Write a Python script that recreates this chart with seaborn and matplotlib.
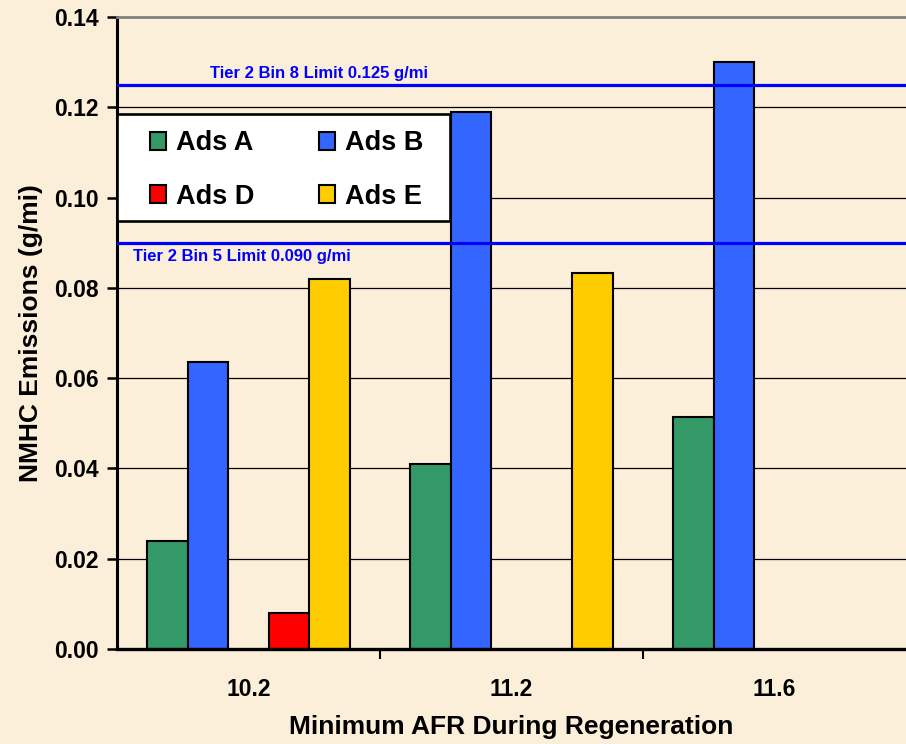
import numpy as np
import pandas as pd
import matplotlib
matplotlib.use("Agg")
import matplotlib.pyplot as plt
from matplotlib.patches import Patch, Rectangle
from matplotlib.ticker import FixedLocator, FormatStrFormatter
import seaborn as sns

# ---- data -------------------------------------------------------------
afr_levels = ["10.2", "11.2", "11.6"]
adsorbers = ["Ads A", "Ads B", "Ads C", "Ads D", "Ads E"]
ads_a = [0.024, 0.041, 0.0515]
ads_b = [0.0635, 0.119, 0.130]
ads_c = [np.nan, np.nan, np.nan]
ads_d = [0.008, np.nan, np.nan]
ads_e = [0.082, 0.0833, np.nan]
legend_entries = ["Ads A", "Ads D", "Ads B", "Ads E"]

limit_labels = ["Tier 2 Bin 8 Limit 0.125 g/mi", "Tier 2 Bin 5 Limit 0.090 g/mi"]
limit_values = [0.125, 0.090]

y_ticks = [0.00, 0.02, 0.04, 0.06, 0.08, 0.10, 0.12, 0.14]

colors = {"Ads A": "#339966", "Ads B": "#3366FF", "Ads C": "#999999",
          "Ads D": "#FF0000", "Ads E": "#FFCC00"}
bg = "#FBEFD9"

rows = []
for name, vals in zip(adsorbers, [ads_a, ads_b, ads_c, ads_d, ads_e]):
    for afr, v in zip(afr_levels, vals):
        rows.append({"afr": afr, "ads": name, "nmhc": v})
df = pd.DataFrame(rows)

# ---- style ------------------------------------------------------------
sns.set_theme(style="white")
plt.rcParams["font.family"] = ["Liberation Sans", "DejaVu Sans"]
plt.rcParams["font.weight"] = "bold"

fig = plt.figure(figsize=(9.06, 7.44), dpi=100, facecolor=bg)
ax = fig.add_axes([117 / 906, 1 - 649 / 744, 789 / 906, 632 / 744])
ax.set_facecolor(bg)

sns.barplot(data=df, x="afr", y="nmhc", hue="ads", order=afr_levels,
            hue_order=adsorbers, palette=colors, saturation=1,
            width=5 / 6.5, errorbar=None, edgecolor="black", linewidth=1.5,
            legend=False, ax=ax, zorder=2)

ax.set_xlim(-0.5, 2.5)
ax.set_ylim(0, 0.14)

# gridlines
ax.set_axisbelow(True)
ax.yaxis.set_major_locator(FixedLocator(y_ticks))
ax.yaxis.set_major_formatter(FormatStrFormatter("%.2f"))
ax.yaxis.grid(True, color="black", linewidth=0.9)
ax.xaxis.grid(False)
gl = ax.get_ygridlines()
gl[0].set_visible(False)
gl[-1].set_visible(False)

# spines
ax.spines["right"].set_visible(False)
ax.spines["top"].set_color("#808080")
ax.spines["top"].set_linewidth(2.0)
ax.spines["left"].set_color("black")
ax.spines["left"].set_linewidth(2.2)
ax.spines["bottom"].set_color("black")
ax.spines["bottom"].set_linewidth(2.4)
ax.spines["bottom"].set_zorder(4)

# ticks
ax.tick_params(axis="y", direction="out", length=7, width=1.8, pad=6,
               labelsize=16.5, colors="black", left=True)
ax.tick_params(axis="x", which="major", length=0, pad=21, labelsize=16.5,
               colors="black", bottom=True)
ax.set_xticks([0.5, 1.5], minor=True)
ax.tick_params(axis="x", which="minor", direction="out", length=7.5,
               width=1.5, color="black", bottom=True)
for lab in ax.get_xticklabels() + ax.get_yticklabels():
    lab.set_fontweight("bold")

ax.set_xlabel("Minimum AFR During Regeneration", fontsize=19,
              fontweight="bold", color="black")
ax.xaxis.set_label_coords(0.5, -0.104)
ax.set_ylabel("NMHC Emissions (g/mi)", fontsize=19, fontweight="bold",
              color="black")
ax.yaxis.set_label_coords(-0.109, 0.5)
ax.yaxis.label.set_verticalalignment("center")

# emission limit lines
for val in limit_values:
    ax.axhline(val, color="#0000FF", linewidth=2.3, zorder=3)
ax.annotate(limit_labels[0], xy=(0.118, limit_values[0]),
            xycoords=("axes fraction", "data"), xytext=(0, 4.5),
            textcoords="offset points", ha="left", va="baseline",
            fontsize=12, fontweight="bold", color="#0000FF", zorder=3)
ax.annotate(limit_labels[1], xy=(0.020, limit_values[1]),
            xycoords=("axes fraction", "data"), xytext=(0, -4.5),
            textcoords="offset points", ha="left", va="top",
            fontsize=12, fontweight="bold", color="#0000FF", zorder=3)

# legend box and entries
frame = Rectangle((117 / 906, 1 - 221 / 744), 333 / 906, 107 / 744,
                  transform=fig.transFigure, facecolor="white",
                  edgecolor="black", linewidth=1.9, zorder=4.9,
                  clip_on=False)
ax.add_patch(frame)
handles = [Patch(facecolor=colors[n], edgecolor="black", linewidth=1.5)
           for n in legend_entries]
leg = ax.legend(handles, legend_entries, ncol=2, loc="center",
                bbox_to_anchor=(286.5 / 906, 1 - 170 / 744),
                bbox_transform=fig.transFigure, frameon=False,
                borderpad=0, borderaxespad=0, handlelength=0.6,
                handleheight=0.6, handletextpad=0.35, columnspacing=2.4,
                labelspacing=1.0, prop={"size": 19.5, "weight": "bold"})
leg.set_zorder(5)
for t in leg.get_texts():
    t.set_color("black")

fig.savefig("out.png", dpi=100, facecolor=bg)
